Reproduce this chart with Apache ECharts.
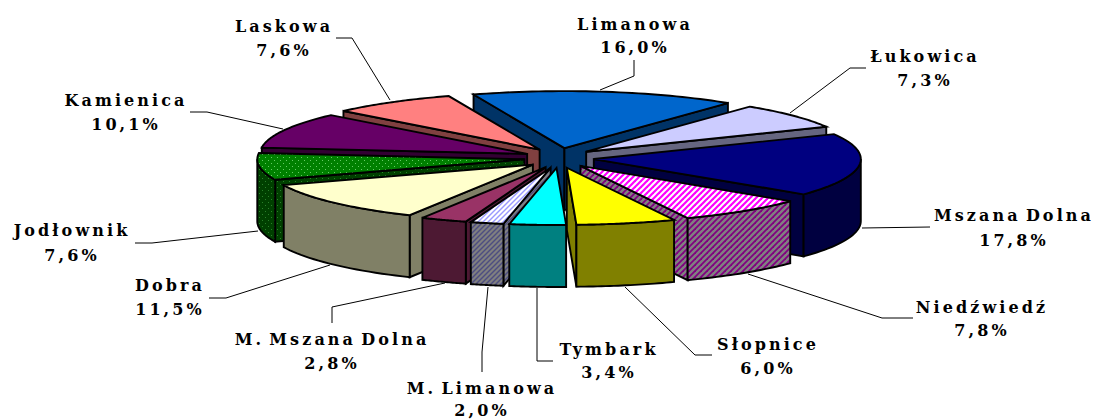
<!DOCTYPE html>
<html><head><meta charset="utf-8">
<style>
html,body{margin:0;padding:0;background:#fff}
#c{width:1095px;height:419px}
#c text{letter-spacing:3.1px;word-spacing:-3.5px}
</style>
<script src="https://cdn.jsdelivr.net/npm/echarts@6/dist/echarts.min.js"></script>
</head><body><div id="c"></div>
<script>
const categories=['Limanowa','Łukowica','Mszana Dolna','Niedźwiedź','Słopnice','Tymbark','M. Limanowa','M. Mszana Dolna','Dobra','Jodłownik','Kamienica','Laskowa'];
const values=[16.0,7.3,17.8,7.8,6.0,3.4,2.0,2.8,11.5,7.6,10.1,7.6];
const valueLabels=['16,0%','7,3%','17,8%','7,8%','6,0%','3,4%','2,0%','2,8%','11,5%','7,6%','10,1%','7,6%'];

// layout and styling
const geo={cx:559,cy:158,rx:267,ry:57,depth:62,ex:35,ey:10,start:-19.9};
const labelPos=[[635,24],[925,56],[1014,215],[982,307],[768,344],[609,349],[482,388],[332,339],[170,285],[72,230],[126,100],[284,26]];
const valueLineGap=[23,24,25,23,24,23,22,24,24,25,24,24];
const leaders=[
 [[600,90],[634,76],[634,60]],
 [[790,113],[850,68],[866,68]],
 [[862,228],[930,227]],
 [[748,274],[882,318],[913,318]],
 [[625,287],[695,355],[712,355]],
 [[537,288],[537,361],[553,361]],
 [[488,287],[482,352],[482,372]],
 [[445,283],[332,307],[332,323]],
 [[330,265],[226,298],[209,298]],
 [[258,231],[152,243],[135,243]],
 [[283,129],[207,112],[190,112]],
 [[390,100],[352,38],[336,38]]
];
function hatch(bg,fg,size,w){
  const s=size,c=document.createElement('canvas');c.width=c.height=s;
  const g=c.getContext('2d');g.fillStyle=bg;g.fillRect(0,0,s,s);
  g.strokeStyle=fg;g.lineWidth=w;
  [[-s,s,s,-s],[0,s,s,0],[0,2*s,2*s,0]].forEach(l=>{g.beginPath();g.moveTo(l[0],l[1]);g.lineTo(l[2],l[3]);g.stroke();});
  return {image:c.toDataURL(),repeat:'repeat',imageWidth:s,imageHeight:s};
}
function dots(bg,fg){
  const c=document.createElement('canvas');c.width=c.height=6;
  const g=c.getContext('2d');g.fillStyle=bg;g.fillRect(0,0,6,6);
  g.fillStyle=fg;g.fillRect(1,1,1,1);g.fillRect(4,4,1,1);
  return {image:c.toDataURL(),repeat:'repeat',imageWidth:6,imageHeight:6};
}
const topFill=['#0066CC','#CCCCFF','#000080',hatch('#FFFFFF','#FF00FF',6,2.2),'#FFFF00','#00FFFF',hatch('#FFFFFF','#9999FF',5,1.4),'#993366','#FFFFCC',dots('#008000','#66CC66'),'#660066','#FF8080'];
const wallFill=['#003366','#666680','#000040',hatch('#808080','#800080',6,1.8),'#808000','#008080',hatch('#808080','#4D4D80',5,1.4),'#4D1933','#808066',dots('#004000','#2A802A'),'#330033','#804040'];

const total=values.reduce((a,b)=>a+b,0);
const spans=[];let acc=geo.start;
values.forEach(v=>{const s=acc;acc+=v/total*360;spans.push([s,acc]);});
const rad=d=>d*Math.PI/180;
const drawRank=spans.map((s,i)=>({i,k:-Math.cos(rad((s[0]+s[1])/2))})).sort((a,b)=>a.k-b.k);
const rankOf={};drawRank.forEach((o,r)=>rankOf[o.i]=r);
const stroke={stroke:'#000',lineWidth:1.9,lineJoin:'miter'};

function renderItem(params,api){
  const i=api.value(1);const [a0,a1]=spans[i];const mid=rad((a0+a1)/2);
  const ax=geo.cx+geo.ex*Math.sin(mid),ay=geo.cy-geo.ey*Math.cos(mid);
  const pt=d=>[ax+geo.rx*Math.sin(rad(d)),ay-geo.ry*Math.cos(rad(d))];
  const down=p=>[p[0],p[1]+geo.depth];
  const z=rankOf[i]*10;
  const kids=[];
  const poly=(pts,fill,zz)=>kids.push({type:'polygon',z2:z+zz,shape:{points:pts},style:Object.assign({fill},stroke)});
  const A=[ax,ay],S=pt(a0),E=pt(a1);
  if(Math.sin(rad(a0))<0) poly([A,S,down(S),down(A)],wallFill[i],1);
  if(Math.sin(rad(a1))>0) poly([A,E,down(E),down(A)],wallFill[i],1);
  const w0=Math.max(a0,90),w1=Math.min(a1,270);
  if(w1>w0){
    const up=[];for(let k=0;k<=24;k++)up.push(pt(w0+(w1-w0)*k/24));
    poly(up.concat(up.slice().reverse().map(down)),wallFill[i],2);
  }
  const arc=[];for(let k=0;k<=40;k++)arc.push(pt(a0+(a1-a0)*k/40));
  poly([A].concat(arc),topFill[i],3);
  kids.push({type:'polyline',z2:0,shape:{points:leaders[i]},style:{fill:null,stroke:'#000',lineWidth:1}});
  const [lx,ly]=labelPos[i];
  const font='bold 16px "DejaVu Serif"';
  kids.push({type:'text',z2:500,style:{text:categories[i],x:lx,y:ly,font,fill:'#000',textAlign:'center',textVerticalAlign:'middle'}});
  kids.push({type:'text',z2:500,style:{text:valueLabels[i],x:lx,y:ly+valueLineGap[i],font,fill:'#000',textAlign:'center',textVerticalAlign:'middle'}});
  return {type:'group',children:kids};
}
const chart=echarts.init(document.getElementById('c'),null,{renderer:'svg',width:1095,height:419});
chart.setOption({animation:false,backgroundColor:'#fff',series:[{type:'custom',coordinateSystem:'none',renderItem,silent:true,
  data:drawRank.map(o=>[values[o.i],o.i])}]});
</script></body></html>
